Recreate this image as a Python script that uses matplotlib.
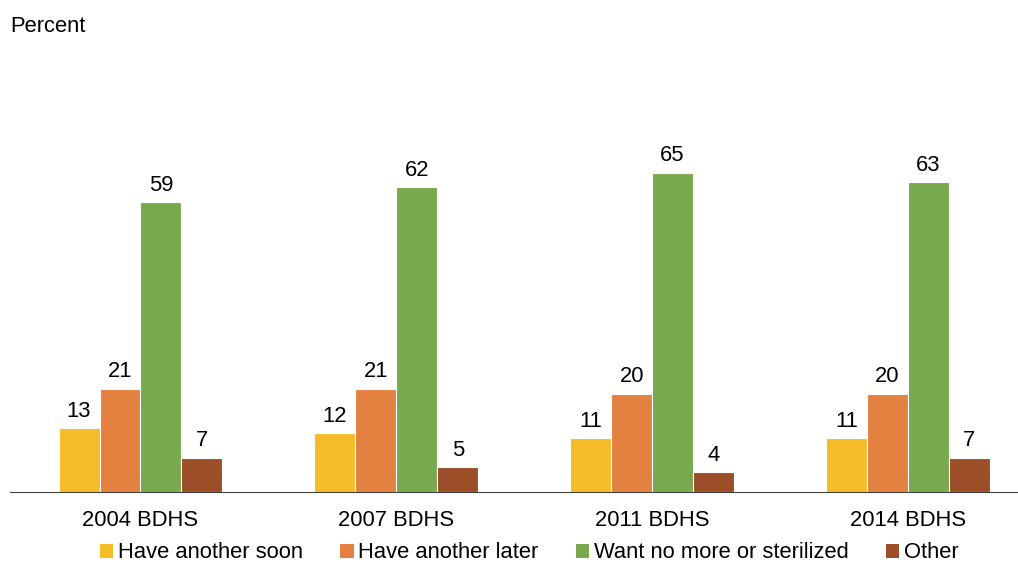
import numpy as np
import matplotlib
matplotlib.use("Agg")
import matplotlib.pyplot as plt
from matplotlib.patches import Patch

plt.rcParams["font.family"] = ["Liberation Sans", "DejaVu Sans"]

SURVEYS = ["2004 BDHS", "2007 BDHS", "2011 BDHS", "2014 BDHS"]
SERIES = ["Have another soon", "Have another later", "Want no more or sterilized", "Other"]
SOON = [13, 12, 11, 11]
LATER = [21, 21, 20, 20]
NO_MORE = [59, 62, 65, 63]
OTHER = [7, 5, 4, 7]
COLORS = ["#F4BC28", "#E58140", "#78A94F", "#9C4E29"]

W, H = 1018, 565
FS = 15.8
fig = plt.figure(figsize=(W / 100, H / 100), dpi=100)
ax = fig.add_axes([10 / W, (H - 492) / H, 1008 / W, (492 - 40) / H])

x = np.arange(len(SURVEYS))
bw = 0.16
for i, (vals, col) in enumerate(zip([SOON, LATER, NO_MORE, OTHER], COLORS)):
    pos = x + (i - 1.5) * bw
    ax.bar(pos, vals, width=bw, color=col, edgecolor="white", linewidth=0.8)
    for p, v in zip(pos, vals):
        ax.text(p, v + 1.3, str(v), ha="center", va="bottom", fontsize=FS)

ax.set_xlim(-0.51, 3.43)
ax.set_ylim(0, 92)
ax.set_xticks(x)
ax.set_xticklabels(SURVEYS, fontsize=FS)
ax.tick_params(axis="x", length=0, pad=13)
ax.set_yticks([])
for s in ["top", "right", "left"]:
    ax.spines[s].set_visible(False)
ax.spines["bottom"].set_color("#404040")
ax.spines["bottom"].set_linewidth(0.8)

fig.text(10 / W, 1 - 27 / H, "Percent", fontsize=FS, va="center", ha="left")

handles = [Patch(facecolor=c, edgecolor="none") for c in COLORS]
fig.legend(handles, SERIES, loc="center", bbox_to_anchor=(529 / W, 1 - 553 / H), ncol=4,
           frameon=False, fontsize=FS, handlelength=0.62, handleheight=0.62,
           handletextpad=0.2, columnspacing=1.7, borderaxespad=0)

fig.savefig("out.png", dpi=100)
